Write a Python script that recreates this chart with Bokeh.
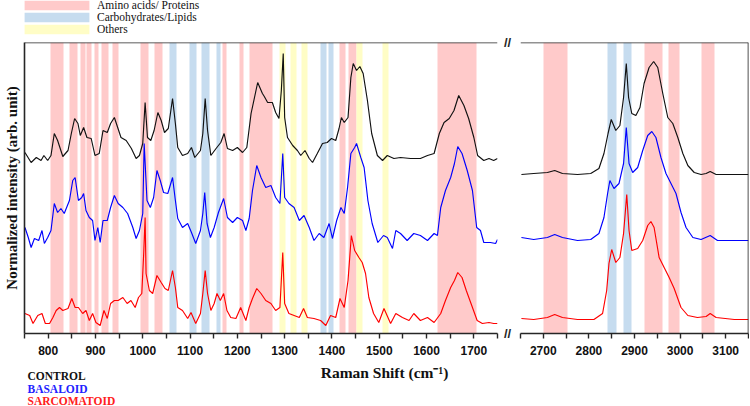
from bokeh.plotting import figure
from bokeh.models import ColumnDataSource, Range1d, FixedTicker, Span, Label, Legend, LegendItem, Spacer
from bokeh.layouts import column, row
from bokeh.embed import file_html
from bokeh.resources import INLINE

# ---------------- data ----------------
# fingerprint region, Raman shift (cm-1) and normalized intensity (offset, arb. unit)
control_lo_x = [751, 764, 775, 785, 791, 799, 806, 813, 820, 831, 842, 849, 856, 863, 868, 875, 882, 891, 899, 908,
                916, 925, 932, 940, 947, 954, 965, 976, 986, 993, 1000, 1005, 1010, 1017, 1024, 1032, 1039, 1046, 1054, 1063,
                1069, 1074, 1084, 1095, 1103, 1110, 1122, 1127, 1132, 1137, 1144, 1155, 1165, 1172, 1179, 1190, 1200, 1211, 1220, 1229,
                1243, 1253, 1257, 1264, 1274, 1281, 1288, 1293, 1297, 1300, 1306, 1317, 1327, 1334, 1343, 1352, 1359, 1369, 1380, 1390,
                1399, 1408, 1415, 1420, 1426, 1434, 1440, 1445, 1452, 1459, 1466, 1475, 1484, 1496, 1507, 1517, 1531, 1545, 1566, 1587,
                1602, 1616, 1627, 1637, 1648, 1658, 1668, 1679, 1689, 1700, 1708, 1721, 1732, 1742, 1750]
control_lo_y = [181, 171, 176, 173, 178, 173, 178, 200, 193, 177, 183, 200, 215, 210, 198, 206, 196, 195, 178, 180,
                203, 201, 210, 216, 206, 196, 193, 185, 175, 178, 190, 231, 196, 193, 203, 221, 213, 201, 205, 235,
                210, 186, 178, 180, 186, 176, 183, 200, 235, 203, 178, 185, 191, 200, 185, 183, 186, 181, 186, 220,
                251, 240, 237, 231, 231, 221, 215, 243, 280, 216, 196, 188, 183, 178, 183, 175, 171, 180, 190, 191,
                195, 193, 205, 216, 211, 216, 256, 270, 263, 267, 260, 233, 200, 178, 173, 178, 175, 176, 175, 175,
                178, 180, 200, 211, 215, 223, 238, 228, 215, 196, 178, 173, 175, 173, 175]

basaloid_lo_x = [751, 758, 764, 771, 780, 787, 792, 799, 806, 813, 820, 827, 834, 845, 852, 857, 864, 871, 875, 880,
                 887, 894, 899, 905, 910, 916, 925, 932, 940, 948, 958, 968, 979, 986, 993, 1000, 1003, 1009, 1016, 1023,
                 1030, 1037, 1044, 1053, 1063, 1069, 1074, 1084, 1095, 1103, 1112, 1122, 1127, 1131, 1136, 1143, 1151, 1160, 1171, 1179,
                 1190, 1200, 1211, 1218, 1225, 1232, 1241, 1250, 1260, 1271, 1281, 1290, 1296, 1300, 1309, 1320, 1331, 1341, 1352, 1362,
                 1373, 1383, 1394, 1401, 1410, 1419, 1426, 1433, 1440, 1448, 1452, 1461, 1468, 1476, 1485, 1497, 1509, 1517, 1528, 1535,
                 1545, 1559, 1573, 1587, 1602, 1616, 1623, 1630, 1640, 1651, 1659, 1666, 1675, 1686, 1697, 1706, 1714, 1721, 1735, 1746,
                 1750]
basaloid_lo_y = [106, 96, 86, 95, 93, 103, 90, 96, 103, 130, 121, 125, 120, 133, 153, 156, 133, 136, 140, 123,
                 116, 113, 93, 106, 91, 113, 113, 126, 138, 130, 126, 120, 106, 95, 103, 120, 190, 133, 126, 136,
                 163, 153, 141, 140, 156, 133, 115, 106, 110, 101, 90, 103, 120, 141, 110, 96, 106, 121, 135, 116,
                 111, 116, 113, 103, 115, 143, 168, 156, 146, 148, 136, 130, 180, 136, 130, 126, 113, 118, 106, 93,
                 100, 96, 110, 95, 113, 126, 120, 146, 180, 186, 190, 176, 166, 133, 110, 91, 98, 96, 85, 103,
                 100, 93, 100, 98, 93, 100, 98, 126, 143, 156, 170, 187, 180, 163, 143, 106, 103, 91, 91, 90,
                 94]

sarcomatoid_lo_x = [751, 761, 768, 778, 787, 794, 803, 810, 817, 824, 831, 842, 850, 857, 864, 873, 880, 887, 894, 901,
                    910, 918, 925, 932, 940, 948, 958, 967, 975, 984, 991, 998, 1002, 1005, 1007, 1014, 1021, 1030, 1039, 1047,
                    1054, 1063, 1069, 1074, 1084, 1095, 1102, 1112, 1122, 1127, 1132, 1137, 1144, 1151, 1157, 1164, 1171, 1178, 1186, 1197,
                    1207, 1218, 1225, 1232, 1241, 1250, 1260, 1271, 1281, 1290, 1296, 1300, 1309, 1320, 1331, 1340, 1348, 1362, 1376, 1387,
                    1397, 1408, 1417, 1426, 1434, 1441, 1448, 1457, 1464, 1471, 1478, 1488, 1499, 1510, 1524, 1535, 1549, 1563, 1573, 1587,
                    1602, 1616, 1630, 1640, 1651, 1659, 1666, 1675, 1684, 1694, 1707, 1718, 1732, 1742, 1750]
sarcomatoid_lo_y = [20, 18, 10, 18, 20, 10, 10, 16, 23, 26, 23, 25, 35, 26, 26, 20, 23, 13, 20, 11,
                    8, 23, 15, 30, 33, 33, 36, 30, 33, 26, 36, 40, 80, 116, 60, 43, 40, 58, 51, 45,
                    43, 63, 46, 26, 23, 15, 21, 10, 20, 40, 63, 40, 23, 30, 40, 33, 40, 23, 16, 15,
                    26, 13, 26, 35, 45, 40, 33, 30, 23, 26, 81, 30, 20, 18, 16, 25, 16, 15, 13, 8,
                    18, 16, 35, 26, 53, 98, 83, 76, 71, 60, 36, 20, 11, 25, 10, 20, 16, 13, 20, 13,
                    16, 11, 20, 33, 46, 53, 61, 56, 43, 30, 13, 10, 11, 10, 10]

# high-wavenumber region
control_hi_x = [2652, 2679, 2709, 2725, 2742, 2775, 2804, 2822, 2833, 2842, 2849, 2859, 2868, 2876, 2882, 2887, 2894, 2903,
                2912, 2921, 2932, 2942, 2951, 2962, 2973, 2984, 2995, 3006, 3017, 3031, 3046, 3057, 3066, 3079, 3104, 3150]
control_hi_y = [159, 160, 161, 163, 160, 159, 160, 165, 180, 200, 214, 203, 208, 236, 270, 236, 220, 218,
                226, 250, 266, 272, 266, 240, 216, 210, 196, 180, 168, 161, 159, 160, 162, 159, 159, 159]
basaloid_hi_x = [2652, 2679, 2709, 2725, 2742, 2775, 2804, 2822, 2833, 2841, 2846, 2855, 2866, 2876, 2882, 2888, 2896,
                 2907, 2918, 2929, 2938, 2947, 2958, 2969, 2980, 2991, 3002, 3013, 3028, 3046, 3066, 3082, 3119, 3150]
basaloid_hi_y = [96, 94, 96, 99, 96, 93, 94, 100, 116, 140, 153, 145, 150, 170, 206, 170, 161,
                 166, 183, 198, 202, 196, 176, 160, 150, 140, 121, 106, 96, 94, 98, 93, 93, 93]
sarcomatoid_hi_x = [2652, 2679, 2709, 2725, 2742, 2775, 2811, 2830, 2839, 2844, 2850, 2859, 2868, 2876, 2883, 2888, 2894,
                    2907, 2918, 2929, 2936, 2943, 2954, 2965, 2976, 2987, 3002, 3017, 3038, 3057, 3066, 3079, 3119, 3150]
sarcomatoid_hi_y = [15, 14, 16, 19, 16, 14, 14, 20, 43, 70, 84, 71, 76, 100, 139, 103, 83,
                    85, 93, 108, 112, 106, 76, 66, 56, 45, 26, 18, 16, 17, 20, 16, 14, 14]

# assignment bands (start, end in cm-1)
protein_lo_x0 = [805, 846, 868, 882, 898, 912, 935, 995, 1024, 1169, 1204, 1225, 1416, 1435, 1623]
protein_lo_x1 = [833, 861, 879, 892, 907, 927, 949, 1012, 1042, 1178, 1213, 1274, 1429, 1452, 1705]
carb_lo_x0 = [1056, 1098, 1125, 1155, 1375, 1392]
carb_lo_x1 = [1072, 1114, 1142, 1165, 1389, 1403]
other_lo_x0 = [1290, 1313, 1336, 1452, 1507]
other_lo_x1 = [1302, 1326, 1348, 1464, 1519]
protein_hi_x0 = [2700, 2921, 2974, 3048]
protein_hi_x1 = [2752, 2962, 2999, 3075]
carb_hi_x0 = [2841, 2875]
carb_hi_x1 = [2860, 2894]

ticks_lo = [800, 900, 1000, 1100, 1200, 1300, 1400, 1500, 1600, 1700]
minor_lo = [750, 850, 950, 1050, 1150, 1250, 1350, 1450, 1550, 1650, 1750]
ticks_hi = [2700, 2800, 2900, 3000, 3100]
minor_hi = [2650, 2750, 2850, 2950, 3050, 3150]

group_names = ["CONTROL", "BASALOID", "SARCOMATOID"]
band_names = ["Amino acids/ Proteins", "Carbohydrates/Lipids", "Others"]

# ---------------- styling ----------------
PINK, BLUE, YELLOW = "#FFCACA", "#C6DCEF", "#FFFDC6"
LINE_COLORS = ["#111111", "#0000FF", "#FF0000"]
LABEL_COLORS = ["#111111", "#2222FF", "#FF2020"]
AX = "#262626"
SERIF, SANS = "Liberation Serif", "Liberation Sans"
TOP_H = 42          # legend strip
FRAME_H = 291
BOTTOM_B = 28
PANEL_H = FRAME_H + BOTTOM_B
W1, GAP, W2 = 499, 19, 231
TOTAL_W = W1 + GAP + W2
BOT_H = 405 - TOP_H - PANEL_H
Y_END = 291


def style_bottom_axis(p, major, minor):
    ax = p.xaxis[0]
    ax.ticker = FixedTicker(ticks=major, minor_ticks=minor)
    ax.major_label_text_font = SANS
    ax.major_label_text_font_style = "bold"
    ax.major_label_text_font_size = "12px"
    ax.major_label_text_color = "#111111"
    ax.major_tick_out = 5
    ax.major_tick_in = 0
    ax.minor_tick_out = 5
    ax.minor_tick_in = 0
    ax.axis_line_width = 1.6
    ax.axis_line_color = AX
    ax.major_tick_line_width = 1.4
    ax.minor_tick_line_width = 1.4
    ax.major_tick_line_color = AX
    ax.minor_tick_line_color = AX
    ax.major_label_standoff = 7


def panel(width, xr, bl, br, with_y):
    p = figure(width=width, height=PANEL_H, x_range=Range1d(*xr), y_range=Range1d(0, Y_END),
               output_backend="svg", toolbar_location=None, title=None,
               min_border_left=bl, min_border_right=br, min_border_top=0, min_border_bottom=BOTTOM_B,
               y_axis_location="left" if with_y else None, outline_line_color=None)
    p.grid.visible = False
    return p


def blank(width, height):
    p = figure(width=width, height=height, x_range=Range1d(0, 1), y_range=Range1d(0, 1),
               x_axis_location=None, y_axis_location=None, min_border=0, outline_line_color=None,
               title=None, toolbar_location=None, output_backend="svg")
    p.grid.visible = False
    return p


def add_bands(p, groups):
    x0, x1, col = [], [], []
    for starts, ends, c in groups:
        x0 += starts
        x1 += ends
        col += [c] * len(starts)
    src = ColumnDataSource(dict(x0=x0, x1=x1, color=col))
    p.vstrip(x0="x0", x1="x1", fill_color="color", line_color=None, source=src)


# ---------------- left panel ----------------
p1 = panel(W1, (750, 1750), 23, 2, True)
add_bands(p1, [(protein_lo_x0, protein_lo_x1, PINK), (carb_lo_x0, carb_lo_x1, BLUE),
               (other_lo_x0, other_lo_x1, YELLOW)])
for xs, ys, c in [(control_lo_x, control_lo_y, LINE_COLORS[0]),
                  (basaloid_lo_x, basaloid_lo_y, LINE_COLORS[1]),
                  (sarcomatoid_lo_x, sarcomatoid_lo_y, LINE_COLORS[2])]:
    p1.line(xs, ys, line_color=c, line_width=1.15)
style_bottom_axis(p1, ticks_lo, minor_lo)
ya = p1.yaxis[0]
ya.ticker = FixedTicker(ticks=[])
ya.major_tick_out = 0
ya.major_tick_in = 0
ya.minor_tick_out = 0
ya.minor_tick_in = 0
ya.major_label_standoff = 0
ya.axis_label = "Normalized intensity (arb. unit)"
ya.axis_label_text_font = SERIF
ya.axis_label_text_font_style = "bold"
ya.axis_label_text_font_size = "15px"
ya.axis_label_text_color = "#111111"
ya.axis_label_standoff = 5
ya.axis_line_width = 1.6
ya.axis_line_color = AX
p1.add_layout(Span(location=Y_END, dimension="width", line_color=AX, line_width=1.6))

# ---------------- right panel ----------------
p2 = panel(W2, (2650, 3150), 2, 1, False)
add_bands(p2, [(protein_hi_x0, protein_hi_x1, PINK), (carb_hi_x0, carb_hi_x1, BLUE)])
for xs, ys, c in [(control_hi_x, control_hi_y, LINE_COLORS[0]),
                  (basaloid_hi_x, basaloid_hi_y, LINE_COLORS[1]),
                  (sarcomatoid_hi_x, sarcomatoid_hi_y, LINE_COLORS[2])]:
    p2.line(xs, ys, line_color=c, line_width=1.15)
style_bottom_axis(p2, ticks_hi, minor_hi)
p2.add_layout(Span(location=Y_END, dimension="width", line_color=AX, line_width=1.6))
p2.add_layout(Span(location=3150, dimension="height", line_color=AX, line_width=1.6))

# ---------------- axis-break strip ----------------
pgap = blank(GAP, TOP_H + PANEL_H)
for yy in (PANEL_H, BOTTOM_B):
    pgap.add_layout(Label(x=8, y=yy, x_units="screen", y_units="screen", text="//",
                          text_align="center", text_baseline="middle", text_font=SANS,
                          text_font_style="bold", text_font_size="13px", text_color=AX))

# ---------------- legend strip on top ----------------
pleg = blank(W1, TOP_H)
items = []
for name, c in zip(band_names, [PINK, BLUE, YELLOW]):
    # renderer kept outside the visible range; it only lends its colour to the legend
    r = pleg.quad(left=[5], right=[6], bottom=[5], top=[6], fill_color=c, line_color=None)
    items.append(LegendItem(label=name, renderers=[r]))
legend = Legend(items=items, location=(-8, 7), orientation="vertical", glyph_width=81, glyph_height=12,
                label_height=12, label_width=10, spacing=0, padding=0, margin=0, label_standoff=0,
                border_line_color=None, background_fill_alpha=0, label_text_font=SERIF,
                label_text_font_size="11.5px", label_text_color="#111111")
pleg.add_layout(legend)

# ---------------- bottom strip: axis title and group names ----------------
p3 = blank(TOTAL_W, BOT_H)
p3.add_layout(Label(x=384, y=BOT_H - 11, x_units="screen", y_units="screen", text="Raman Shift (cm\u207b\u00b9)",
                    text_align="center", text_baseline="middle", text_font=SERIF, text_font_style="bold",
                    text_font_size="15.5px", text_color="#111111"))
for name, c, yy in zip(group_names, LABEL_COLORS, [BOT_H - 14, BOT_H - 27, BOT_H - 39]):
    p3.add_layout(Label(x=27, y=yy, x_units="screen", y_units="screen", text=name,
                        text_align="left", text_baseline="middle", text_font=SERIF, text_font_style="bold",
                        text_font_size="11.5px", text_color=c))

layout = column(row(column(pleg, p1), pgap, column(Spacer(width=W2, height=TOP_H), p2)), p3)
open("out.html", "w").write(file_html(layout, INLINE, "Raman spectra"))
